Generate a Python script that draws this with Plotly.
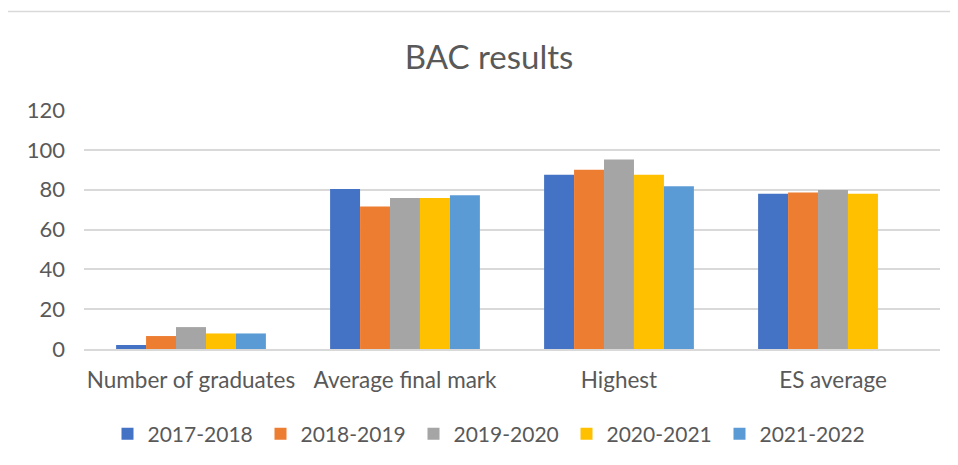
import plotly.graph_objects as go

categories = ["Number of graduates", "Average final mark", "Highest", "ES average"]
series_names = ["2017-2018", "2018-2019", "2019-2020", "2020-2021", "2021-2022"]
values_2017_2018 = [2, 80.3, 87.5, 78]
values_2018_2019 = [6.5, 71.5, 90, 78.6]
values_2019_2020 = [11, 75.8, 95.2, 79.8]
values_2020_2021 = [7.8, 75.8, 87.5, 78]
values_2021_2022 = [7.8, 77.2, 81.7, None]
colors = ["#4472C4", "#ED7D31", "#A5A5A5", "#FFC000", "#5B9BD5"]
y_ticks = [0, 20, 40, 60, 80, 100, 120]

all_values = [values_2017_2018, values_2018_2019, values_2019_2020, values_2020_2021, values_2021_2022]

FONT = "Lato, 'Open Sans', sans-serif"
TXT = "#595959"

fig = go.Figure()
for name, vals, col in zip(series_names, all_values, colors):
    fig.add_trace(go.Bar(x=categories, y=vals, name=name, marker=dict(color=col, line=dict(width=0))))

OFF = 8  # page body margin
W, H = 958 - OFF, 465 - OFF
# plot area in window pixels: x 84..940, y 110..349
L = 84 - OFF
R = 958 - 940
T = 110 - OFF
B = 465 - 350
pw, ph = W - L - R, H - T - B

def px_x(p):
    return (p - OFF - L) / pw

def px_y(p):
    return (H - B - (p - OFF)) / ph

fig.update_layout(
    width=W, height=H,
    margin=dict(l=L, r=R, t=T, b=B),
    paper_bgcolor="white", plot_bgcolor="white",
    barmode="group", bargap=0.3, bargroupgap=0,
    font=dict(family=FONT, color=TXT, size=22),
    title=dict(text="BAC results", x=px_x(489), xanchor="center", xref="paper",
               y=1 - (57 - OFF) / H, yanchor="middle", font=dict(size=33, color=TXT, family=FONT)),
    showlegend=True,
    legend=dict(orientation="h", x=px_x(490), xanchor="center", y=px_y(434), yanchor="middle",
                font=dict(size=21, color=TXT, family=FONT), entrywidth=108, traceorder="normal"),
    shapes=[dict(type="rect", xref="paper", yref="paper",
                 x0=px_x(4), x1=px_x(975), y0=px_y(490), y1=px_y(11),
                 line=dict(color="#D9D9D9", width=1.5), fillcolor="rgba(0,0,0,0)", layer="below")],
)
fig.update_yaxes(range=[0, 120], tickvals=y_ticks, showgrid=True, gridcolor="#D9D9D9", gridwidth=1.5,
                 zeroline=False, showline=False, ticks="", ticklabelstandoff=18,
                 tickfont=dict(size=22, color=TXT, family=FONT))
fig.update_xaxes(showline=True, linecolor="#D9D9D9", linewidth=1.5, ticks="", showgrid=False,
                 ticklabelstandoff=10,
                 tickfont=dict(size=22.5, color=TXT, family=FONT))

fig.write_html("out.html")
